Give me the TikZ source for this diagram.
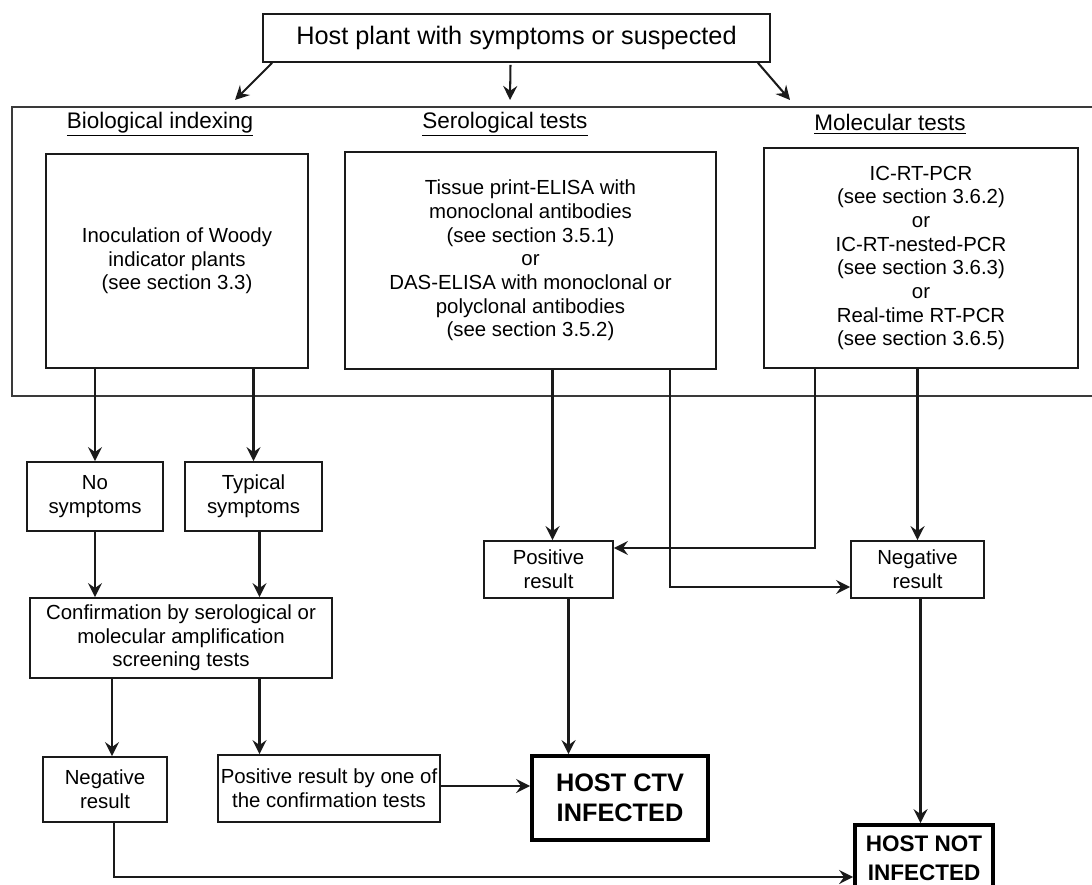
\documentclass[tikz,border=0pt]{standalone}
\usepackage{fontspec}
\setmainfont{Liberation Sans}
\usetikzlibrary{arrows.meta, positioning, calc}
\definecolor{lineblack}{HTML}{1A1A1A}
\definecolor{framegray}{HTML}{3A3A3A}

\begin{document}
\begin{tikzpicture}[x=0.025cm, y=-0.025cm,
  box/.style={draw=lineblack, line width=1.2pt, align=center, inner sep=2pt, font=\fontsize{14.5}{16.8}\selectfont},
  endbox/.style={draw=black, line width=2.6pt, align=center, inner sep=2pt, font=\fontsize{18}{21.5}\selectfont\bfseries},
  hdr/.style={font=\fontsize{16}{18}\selectfont},
  arr/.style={draw=lineblack, line width=1.45pt, -{Stealth[length=10pt, width=10pt, inset=3.5pt]}}]
  \useasboundingbox (0,0) rectangle (1092,885);

  % Starting point
  \node[box, font=\fontsize{18}{21}\selectfont, minimum width=12.675cm, minimum height=1.2cm] (host) at (516.5,38) {Host plant with symptoms or suspected};

  % Frame round the three test groups
  \draw[framegray, line width=1.3pt] (1100,107) -| (12,396) -- (1100,396);
  \coordinate (bioin) at (235,100);
  \coordinate (seroin) at (510,100);
  \coordinate (molin) at (790,100);
  \draw[arr] ([shift={(10,0)}]host.south west) -- (bioin);
  \draw[arr] ([shift={(-6,2)}]host.south) -- (seroin);
  \draw[arr] ([shift={(-13,0)}]host.south east) -- (molin);

  % Group headings
  \node[hdr] (hbio) at (160,124) {\underline{Biological indexing}};
  \node[hdr] (hsero) at (505,124) {\underline{Serological tests}};
  \node[hdr] (hmol) at (890,124) {\underline{Molecular tests}};

  % Test boxes
  \node[box, minimum width=6.55cm, minimum height=5.35cm] (bio) at (177,261)
    {Inoculation of Woody\\indicator plants\\(see section 3.3)};
  \node[box, minimum width=9.275cm, minimum height=5.425cm] (sero) at (530.5,260.5)
    {Tissue print-ELISA with\\monoclonal antibodies\\(see section 3.5.1)\\or\\DAS-ELISA with monoclonal or\\polyclonal antibodies\\(see section 3.5.2)};
  \node[box, minimum width=7.85cm, minimum height=5.5cm] (mol) at (921,258)
    {IC-RT-PCR\\(see section 3.6.2)\\or\\IC-RT-nested-PCR\\(see section 3.6.3)\\or\\Real-time RT-PCR\\(see section 3.6.5)};

  % Biological indexing branch
  \node[box, minimum width=3.4cm, minimum height=1.725cm] (nosym) at (95,496.5) {No\\symptoms};
  \node[box, minimum width=3.425cm, minimum height=1.725cm] (typsym) at (253.5,496.5) {Typical\\symptoms};
  \node[box, minimum width=7.55cm, minimum height=2cm] (confirm) at (181,638)
    {Confirmation by serological or\\molecular amplification\\screening tests};
  \node[box, minimum width=3.1cm, minimum height=1.625cm] (negbio) at (105,789.5) {Negative\\result};
  \node[box, minimum width=5.55cm, minimum height=1.675cm] (posconf) at (329,788.5)
    {Positive result by one of\\the confirmation tests};

  \draw[arr] (nosym.north |- bio.south) -- (nosym.north);
  \draw[arr] (typsym.north |- bio.south) -- (typsym.north);
  \draw[arr] (nosym.south) -- (nosym.south |- confirm.north);
  \draw[arr] ([shift={(6,0)}]typsym.south) -- ([shift={(6,0)}]typsym.south |- confirm.north);
  \draw[arr] ([shift={(7,0)}]negbio.north |- confirm.south) -- ([shift={(7,0)}]negbio.north);
  \draw[arr] ([shift={(6,0)}]typsym.south |- confirm.south) -- ([shift={(6,0)}]typsym.south |- posconf.north);

  % Results of serological and molecular tests
  \node[box, minimum width=3.225cm, minimum height=1.425cm] (posser) at (548.5,569.5) {Positive\\result};
  \node[box, minimum width=3.325cm, minimum height=1.425cm] (negmol) at (917.5,569.5) {Negative\\result};

  \draw[arr] ([shift={(4,0)}]posser.north |- sero.south) -- ([shift={(4,0)}]posser.north);
  \draw[arr] (negmol.north |- mol.south) -- (negmol.north);
  \draw[arr] ([shift={(139.5,0)}]sero.south) |- ([shift={(0,17.5)}]negmol.west);
  \draw[arr] ([shift={(-106,0)}]mol.south) |- ([shift={(0,-21.5)}]posser.east);

  % Final diagnosis
  \node[endbox, minimum width=4.4cm, minimum height=2.1cm] (ctv) at (620,798) {HOST CTV\\INFECTED};
  \node[endbox, font=\fontsize{16}{20.5}\selectfont\bfseries, minimum width=3.45cm, minimum height=1.65cm] (notinf) at (924,858) {HOST NOT\\INFECTED};

  \draw[arr] ([shift={(20,0)}]posser.south) -- ([shift={(20,0)}]posser.south |- ctv.north);
  \draw[arr] ([shift={(0,-2.5)}]posconf.east) -- ([shift={(0,-2.5)}]posconf.east -| ctv.west);
  \draw[arr] ([shift={(3,0)}]negmol.south) -- ([shift={(3,0)}]negmol.south |- notinf.north);
  \draw[arr] ([shift={(9,0)}]negbio.south) |- ([shift={(0,19)}]notinf.west);
\end{tikzpicture}
\end{document}
